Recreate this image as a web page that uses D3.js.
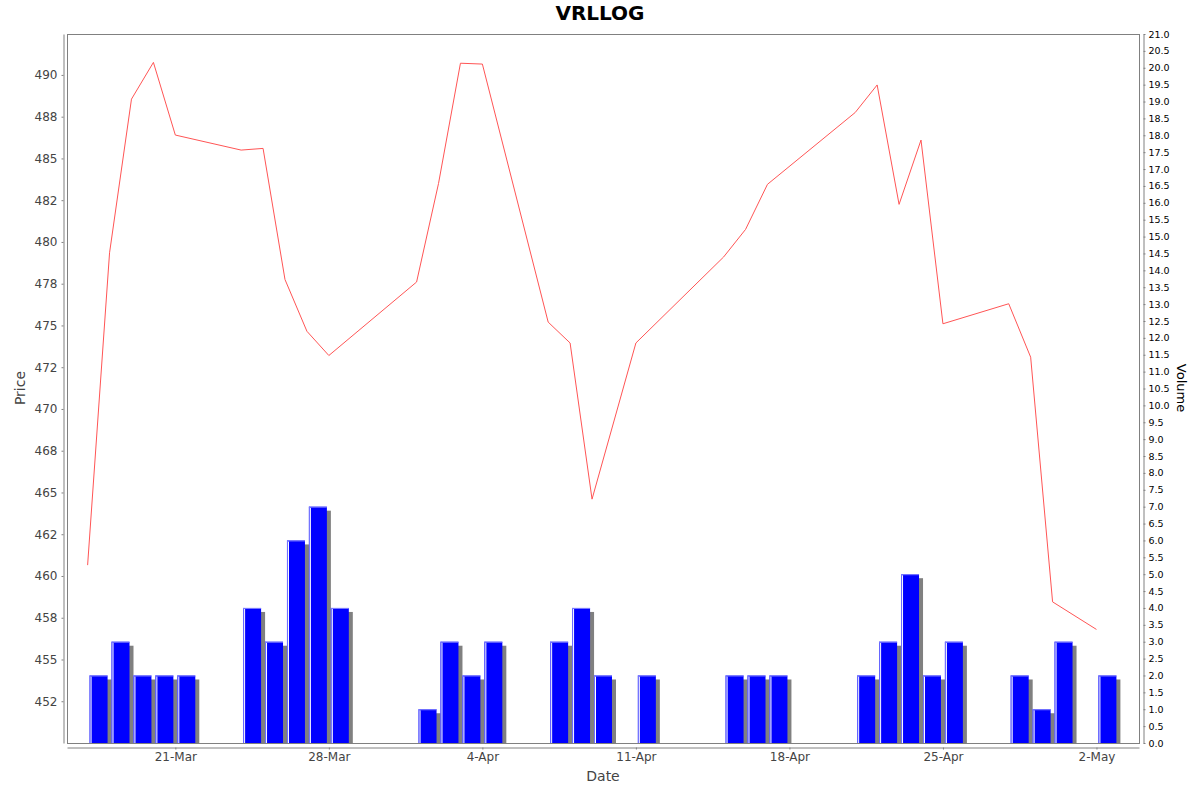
<!DOCTYPE html>
<html>
<head>
<meta charset="utf-8">
<script src="https://cdn.jsdelivr.net/npm/d3@7"></script>
<style>
  body { margin: 0; background: #ffffff; }
  svg { display: block; }
  text { font-family: "DejaVu Sans", sans-serif; }
</style>
</head>
<body>
<svg id="chart" width="1200" height="792"></svg>
<script>
// ---- data ----
const dates = ["2025-03-17","2025-03-18","2025-03-19","2025-03-20","2025-03-21",
  "2025-03-24","2025-03-25","2025-03-26","2025-03-27","2025-03-28",
  "2025-04-01","2025-04-02","2025-04-03","2025-04-04",
  "2025-04-07","2025-04-08","2025-04-09","2025-04-11",
  "2025-04-15","2025-04-16","2025-04-17",
  "2025-04-21","2025-04-22","2025-04-23","2025-04-24","2025-04-25",
  "2025-04-28","2025-04-29","2025-04-30","2025-05-02"];
const prices = [460.65, 479.35, 488.55, 490.75, 486.4,
  485.5, 485.6, 477.75, 474.65, 473.2,
  477.6, 483.5, 490.7, 490.65,
  475.2, 473.95, 464.6, 473.95,
  479.1, 480.75, 483.45,
  487.75, 489.4, 482.25, 486.1, 475.1,
  476.3, 473.1, 458.45, 456.8];
const volumes = [2, 3, 2, 2, 2,
  4, 3, 6, 7, 4,
  1, 3, 2, 3,
  3, 4, 2, 2,
  2, 2, 2,
  2, 3, 5, 2, 3,
  2, 1, 3, 2];
const dateTicks = ["2025-03-21","2025-03-28","2025-04-04","2025-04-11","2025-04-18","2025-04-25","2025-05-02"];
const priceTicks = [452.5, 455, 457.5, 460, 462.5, 465, 467.5, 470, 472.5, 475, 477.5, 480, 482.5, 485, 487.5, 490];
const priceTickLabels = ["452","455","458","460","462","465","468","470","472","475","478","480","482","485","488","490"];
const volumeTicks = d3.range(0, 21.01, 0.5);
const title = "VRLLOG";

// ---- layout ----
const svg = d3.select("#chart");
const plot = { left: 67, right: 1139, top: 34, bottom: 743 };
const parse = d3.timeParse("%Y-%m-%d");
const data = dates.map((d, i) => ({ date: parse(d), price: prices[i], volume: volumes[i] }));
const DAY = 864e5;
const first = data[0].date, last = data[data.length - 1].date;
const span = (last - first) + DAY;
const x = d3.scaleTime()
  .domain([new Date(+first - span * 0.02), new Date(+last + DAY + span * 0.02)])
  .range([plot.left, plot.right]);
const yP = d3.scaleLinear().domain([450, 492.45]).range([plot.bottom, plot.top]);
const yV = d3.scaleLinear().domain([0, 21]).range([plot.bottom, plot.top]);

// title
svg.append("text").attr("x", 600).attr("y", 20).attr("text-anchor", "middle")
  .attr("font-size", 20).attr("font-weight", "bold").attr("fill", "#000").text(title);

// plot background/outline
svg.append("rect").attr("x", plot.left + 0.5).attr("y", plot.top + 0.5)
  .attr("width", plot.right - plot.left).attr("height", plot.bottom - plot.top)
  .attr("fill", "#ffffff").attr("stroke", "#808080").attr("stroke-width", 1);

const clip = svg.append("clipPath").attr("id", "clip").append("rect")
  .attr("x", plot.left + 1).attr("y", plot.top + 1)
  .attr("width", plot.right - plot.left - 1).attr("height", plot.bottom - plot.top);
const g = svg.append("g").attr("clip-path", "url(#clip)");

// bars with shadows
const bars = g.selectAll("g.bar").data(data).enter().append("g").attr("class", "bar");
function bx(d) { const w = x(new Date(+d.date + DAY)) - x(d.date); return x(d.date) + w * 0.09; }
function bw(d) { const w = x(new Date(+d.date + DAY)) - x(d.date); return w * 0.82; }
bars.append("rect")
  .attr("x", d => bx(d) + 4).attr("y", d => yV(d.volume) + 4)
  .attr("width", d => bw(d)).attr("height", d => Math.max(0, yV(0) - yV(d.volume)))
  .attr("fill", "#808080");
bars.append("rect")
  .attr("x", d => bx(d)).attr("y", d => yV(d.volume))
  .attr("width", d => bw(d)).attr("height", d => yV(0) - yV(d.volume))
  .attr("fill", "#0000ff");
bars.append("line")
  .attr("x1", d => bx(d) + 0.5).attr("x2", d => bx(d) + 0.5)
  .attr("y1", d => yV(d.volume)).attr("y2", yV(0))
  .attr("stroke", "#7070ff").attr("stroke-width", 1);
bars.append("line")
  .attr("x1", d => bx(d) + 1.5).attr("x2", d => bx(d) + 1.5)
  .attr("y1", d => yV(d.volume) + 1).attr("y2", yV(0))
  .attr("stroke", "#ffffff").attr("stroke-width", 1);
bars.append("line")
  .attr("x1", d => bx(d)).attr("x2", d => bx(d) + bw(d))
  .attr("y1", d => yV(d.volume) + 0.5).attr("y2", d => yV(d.volume) + 0.5)
  .attr("stroke", "#8080ff").attr("stroke-width", 1);

// price line
g.append("path").datum(data)
  .attr("d", d3.line().x(d => x(d.date)).y(d => yP(d.price)))
  .attr("fill", "none").attr("stroke", "#ff5555").attr("stroke-width", 1);

// left axis
const leftAxis = d3.axisLeft(yP).tickValues(priceTicks)
  .tickFormat((d, i) => priceTickLabels[i]).tickSizeInner(2).tickSizeOuter(0).tickPadding(4);
const la = svg.append("g").attr("transform", "translate(63.5,0)").call(leftAxis);
la.select(".domain").attr("stroke", "#808080");
la.selectAll(".tick line").attr("stroke", "#808080");
la.selectAll(".tick text").attr("font-family", "DejaVu Sans").attr("font-size", 12).attr("fill", "#444444");

// right axis
const rightAxis = d3.axisRight(yV).tickValues(volumeTicks)
  .tickFormat(d3.format(".1f")).tickSizeInner(2).tickSizeOuter(0).tickPadding(3);
const ra = svg.append("g").attr("transform", "translate(1143.5,0)").call(rightAxis);
ra.select(".domain").attr("stroke", "#808080");
ra.selectAll(".tick line").attr("stroke", "#808080");
ra.selectAll(".tick text").attr("font-family", "DejaVu Sans").attr("font-size", 9.5).attr("fill", "#000000");

// bottom axis
const bottomAxis = d3.axisBottom(x).tickValues(dateTicks.map(parse))
  .tickFormat(d3.timeFormat("%-d-%b")).tickSizeInner(2).tickSizeOuter(0).tickPadding(3);
const ba = svg.append("g").attr("transform", "translate(0,747.5)").call(bottomAxis);
ba.select(".domain").attr("stroke", "#808080");
ba.selectAll(".tick line").attr("stroke", "#808080");
ba.selectAll(".tick text").attr("font-family", "DejaVu Sans").attr("font-size", 12).attr("fill", "#444444");

// axis labels
svg.append("text").attr("x", 603).attr("y", 781).attr("text-anchor", "middle")
  .attr("font-size", 14).attr("fill", "#444444").text("Date");
svg.append("text").attr("transform", "translate(25,388) rotate(-90)").attr("text-anchor", "middle")
  .attr("font-size", 14).attr("fill", "#444444").text("Price");
svg.append("text").attr("transform", "translate(1177,388) rotate(90)").attr("text-anchor", "middle")
  .attr("font-size", 13).attr("fill", "#000000").text("Volume");
</script>
</body>
</html>
